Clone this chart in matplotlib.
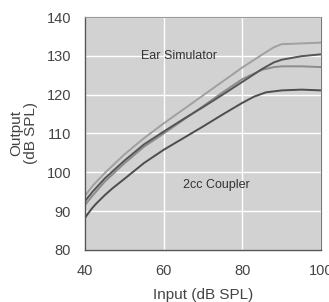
import matplotlib
matplotlib.use("Agg")
import matplotlib.pyplot as plt

plt.rcParams['font.family'] = ['Liberation Sans', 'DejaVu Sans']

x_light = [40, 42, 45, 50, 55, 60, 65, 70, 75, 80, 85, 88, 90, 95, 100]
y_light = [94.0, 96.6, 99.8, 104.6, 108.8, 112.6, 116.2, 119.8, 123.4, 127.0, 130.3, 132.2, 133.0, 133.2, 133.4]

x_dark = [40, 42, 45, 50, 55, 60, 65, 70, 75, 80, 85, 88, 90, 95, 100]
y_dark = [92.6, 95.1, 98.4, 103.0, 107.2, 110.5, 113.7, 116.8, 120.0, 123.3, 126.6, 128.3, 129.0, 129.9, 130.4]

x_mid = [40, 42, 45, 50, 55, 60, 65, 70, 75, 80, 85, 88, 90, 95, 100]
y_mid = [91.6, 94.1, 97.6, 102.3, 106.6, 110.0, 113.5, 117.0, 120.6, 124.0, 126.4, 127.1, 127.3, 127.3, 127.1]

x_low = [40, 41, 42, 43, 45, 47, 50, 55, 60, 65, 70, 75, 80, 83, 86, 90, 95, 100]
y_low = [88.3, 89.7, 91.0, 92.1, 94.1, 95.9, 98.3, 102.4, 105.8, 108.8, 111.8, 114.9, 117.9, 119.5, 120.6, 121.1, 121.3, 121.1]

x_ticks = [40, 60, 80, 100]
y_ticks = [80, 90, 100, 110, 120, 130, 140]

fig = plt.figure(figsize=(3.29, 3.02), dpi=100)
ax = fig.add_axes([0.2584, 0.1722, 0.7173, 0.7715])
ax.set_facecolor('#d2d2d2')

ax.plot(x_light, y_light, color='#a0a0a0', lw=1.4, solid_capstyle='butt')
ax.plot(x_mid, y_mid, color='#8c8c8c', lw=1.4, solid_capstyle='butt')
ax.plot(x_dark, y_dark, color='#555555', lw=1.4, solid_capstyle='butt')
ax.plot(x_low, y_low, color='#4d4d4d', lw=1.4, solid_capstyle='butt')

ax.set_xlim(40, 100)
ax.set_ylim(80, 140)
ax.set_xticks(x_ticks)
ax.set_yticks(y_ticks)
ax.grid(True, color='white', lw=1.0)
ax.set_axisbelow(True)
ax.tick_params(axis='y', length=0, labelsize=10.5, colors='#444444', pad=10)
ax.tick_params(axis='x', length=0, labelsize=10.5, colors='#444444', pad=10)

for s in ['left', 'bottom']:
    ax.spines[s].set_color('#555555')
    ax.spines[s].set_linewidth(1.0)
ax.spines['right'].set_color('#777777')
ax.spines['top'].set_color('#999999')

ax.set_xlabel('Input (dB SPL)', fontsize=11, color='#444444', labelpad=7)
ax.set_ylabel('Output\n(dB SPL)', fontsize=11, color='#444444', labelpad=6, linespacing=1.1)

ax.text(63.9, 130, 'Ear Simulator', fontsize=9, color='#333333', ha='center', va='center')
ax.text(73.3, 96.7, '2cc Coupler', fontsize=9, color='#333333', ha='center', va='center')

fig.text(0.375, 1.012, 'Example', fontsize=10, color='#555555', ha='center', va='baseline')

fig.savefig('out.png', dpi=100)
